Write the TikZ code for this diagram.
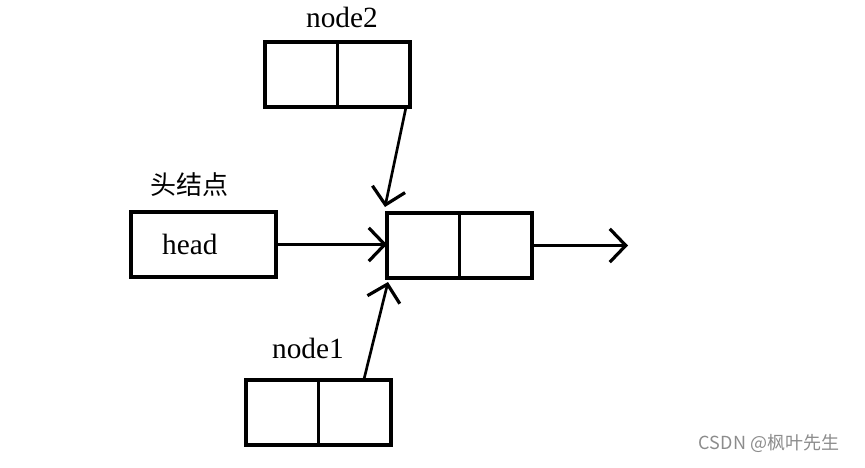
\documentclass[tikz,border=0pt]{standalone}
\usepackage{fontspec}
\setmainfont{Liberation Serif}
\newfontfamily\cjk{Noto Sans CJK SC}
\usetikzlibrary{arrows.meta,positioning,calc}

\begin{document}
\begin{tikzpicture}[x=0.75pt,y=-0.75pt,
  cell/.style={draw,line width=2.5pt,outer sep=0pt,minimum width=54.4pt,minimum height=48.75pt},
  hbox/.style={draw,line width=2.5pt,minimum width=108.75pt,minimum height=48.75pt,
               text width=62pt,align=left,font=\fontsize{22}{26}\selectfont},
  lbl/.style={font=\fontsize{22}{26}\selectfont},
  arr/.style={-{Straight Barb[length=12pt,width=25pt,line width=2.4pt]},line width=2pt}
]
  \useasboundingbox (0,0) rectangle (865,468);

  % head node
  \node[hbox] (head) at (203.5,244.5) {head};
  \node[font=\cjk\fontsize{19.5}{23}\selectfont] (hlbl) at (189,185) {头结点};

  % target node
  \node[cell] (midl) at (423.25,245.5) {};
  \node[cell,right=0pt of midl] (midr) {};
  \coordinate (out) at (628,245.5);

  % node2
  \node[cell] (n2l) at (301.25,74.5) {};
  \node[cell,right=0pt of n2l] (n2r) {};
  \node[lbl]  (n2lbl) at (342,17) {node2};

  % node1
  \node[cell] (n1l) at (282.25,412.5) {};
  \node[cell,right=0pt of n1l] (n1r) {};
  \node[lbl]  (n1lbl) at (308,348) {node1};

  \draw[arr] (head.east) -- (head.east -| midl.west);
  \draw[arr] (midr.east) -- (out);
  \draw[arr] ($(n2r.south east)+(-4,0)$) -- ($(midl.north west)+(-2,-6)$);
  \draw[arr] ($(n1r.north)+(9,0)$) -- ($(midl.south west)+(1,4)$);

  \node[font=\cjk\fontsize{13.5}{16}\selectfont,text=black!45] (wm) at (769,443) {CSDN @枫叶先生};
\end{tikzpicture}
\end{document}
